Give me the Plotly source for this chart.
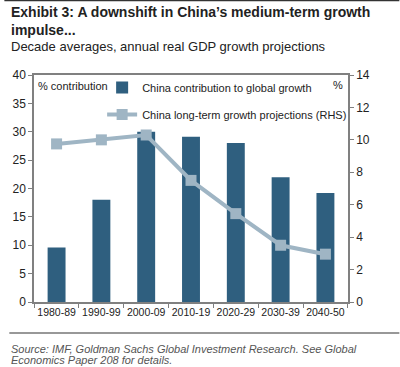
import plotly.graph_objects as go

categories = ["1980-89", "1990-99", "2000-09", "2010-19", "2020-29", "2030-39", "2040-50"]
contribution = [9.6, 18.0, 30.0, 29.1, 28.0, 22.0, 19.2]
growth = [9.75, 10.0, 10.3, 7.5, 5.45, 3.5, 2.95]

BAR = "#2f5f7f"
LINE = "#9fb5c4"
FONT = "Liberation Sans, Arial, sans-serif"

L, R, T, B = 30, 52, 75, 65
W, H = 400, 367
pw, ph = W - L - R, H - T - B

def px(x):
    return (x - L) / pw

def py(y):
    return (H - B - y) / ph

fig = go.Figure()
fig.add_trace(go.Bar(
    x=categories, y=contribution, name="China contribution to global growth",
    marker=dict(color=BAR, line=dict(width=0)), width=0.4, yaxis="y",
    legendgroup="a",
))
fig.add_trace(go.Scatter(
    x=categories, y=growth, name="China long-term growth projections (RHS)",
    mode="lines+markers", yaxis="y2",
    line=dict(color=LINE, width=4),
    marker=dict(symbol="square", size=11, color=LINE),
    legendgroup="b",
))

annotations = [
    dict(text="<b>Exhibit 3: A downshift in China’s medium-term growth</b>", x=px(5), y=py(12),
         xref="paper", yref="paper", xanchor="left", yanchor="middle", showarrow=False,
         font=dict(size=14, color="#222", family=FONT)),
    dict(text="<b>impulse...</b>", x=px(5), y=py(30),
         xref="paper", yref="paper", xanchor="left", yanchor="middle", showarrow=False,
         font=dict(size=14, color="#222", family=FONT)),
    dict(text="Decade averages, annual real GDP growth projections", x=px(5), y=py(47),
         xref="paper", yref="paper", xanchor="left", yanchor="middle", showarrow=False,
         font=dict(size=13, color="#222", family=FONT)),
    dict(text="% contribution", x=px(32), y=py(86),
         xref="paper", yref="paper", xanchor="left", yanchor="middle", showarrow=False,
         font=dict(size=11, color="#222", family=FONT)),
    dict(text="%", x=px(345), y=py(85),
         xref="paper", yref="paper", xanchor="right", yanchor="middle", showarrow=False,
         font=dict(size=11, color="#222", family=FONT)),
    dict(text="<i>Source: IMF, Goldman Sachs Global Investment Research. See Global</i>", x=px(5), y=py(349),
         xref="paper", yref="paper", xanchor="left", yanchor="middle", showarrow=False,
         font=dict(size=11, color="#555", family=FONT)),
    dict(text="<i>Economics Paper 208 for details.</i>", x=px(5), y=py(360),
         xref="paper", yref="paper", xanchor="left", yanchor="middle", showarrow=False,
         font=dict(size=11, color="#555", family=FONT)),
]

shapes = [
    dict(type="line", xref="paper", yref="paper", x0=px(0), x1=px(400), y0=py(0.5), y1=py(0.5),
         line=dict(color="#333", width=1.5)),
    dict(type="line", xref="paper", yref="paper", x0=px(5), x1=px(400), y0=py(333), y1=py(333),
         line=dict(color="#333", width=1.2)),
]

fig.update_layout(
    width=W, height=H,
    margin=dict(l=L, r=R, t=T, b=B, pad=0),
    paper_bgcolor="white", plot_bgcolor="white",
    font=dict(family=FONT, size=12, color="#222"),
    showlegend=True,
    legend=dict(x=px(99), y=py(73), xanchor="left", yanchor="top",
                bgcolor="rgba(0,0,0,0)", font=dict(size=11, family=FONT, color="#222"),
                traceorder="grouped", tracegroupgap=8, itemwidth=30),
    xaxis=dict(type="category", showline=True, linecolor="#808080", linewidth=1.5, mirror=True,
               ticks="outside", tickson="boundaries", ticklen=4, tickcolor="#808080",
               tickangle=0, tickfont=dict(size=10.5), showgrid=False),
    yaxis=dict(range=[0, 40], dtick=5, showline=True, linecolor="#808080", linewidth=1.5,
               ticks="outside", ticklen=4, tickcolor="#808080", showgrid=False,
               zeroline=False, tickfont=dict(size=12)),
    yaxis2=dict(range=[0, 14], dtick=2, overlaying="y", side="right", showline=True,
                linecolor="#808080", linewidth=1.5, ticks="outside", ticklen=4,
                tickcolor="#808080", showgrid=False, zeroline=False, tickfont=dict(size=12)),
    annotations=annotations,
    shapes=shapes,
)

fig.write_html("out.html", config={"displayModeBar": False},
               post_script="document.body.style.margin='0';document.body.style.overflow='hidden';")
